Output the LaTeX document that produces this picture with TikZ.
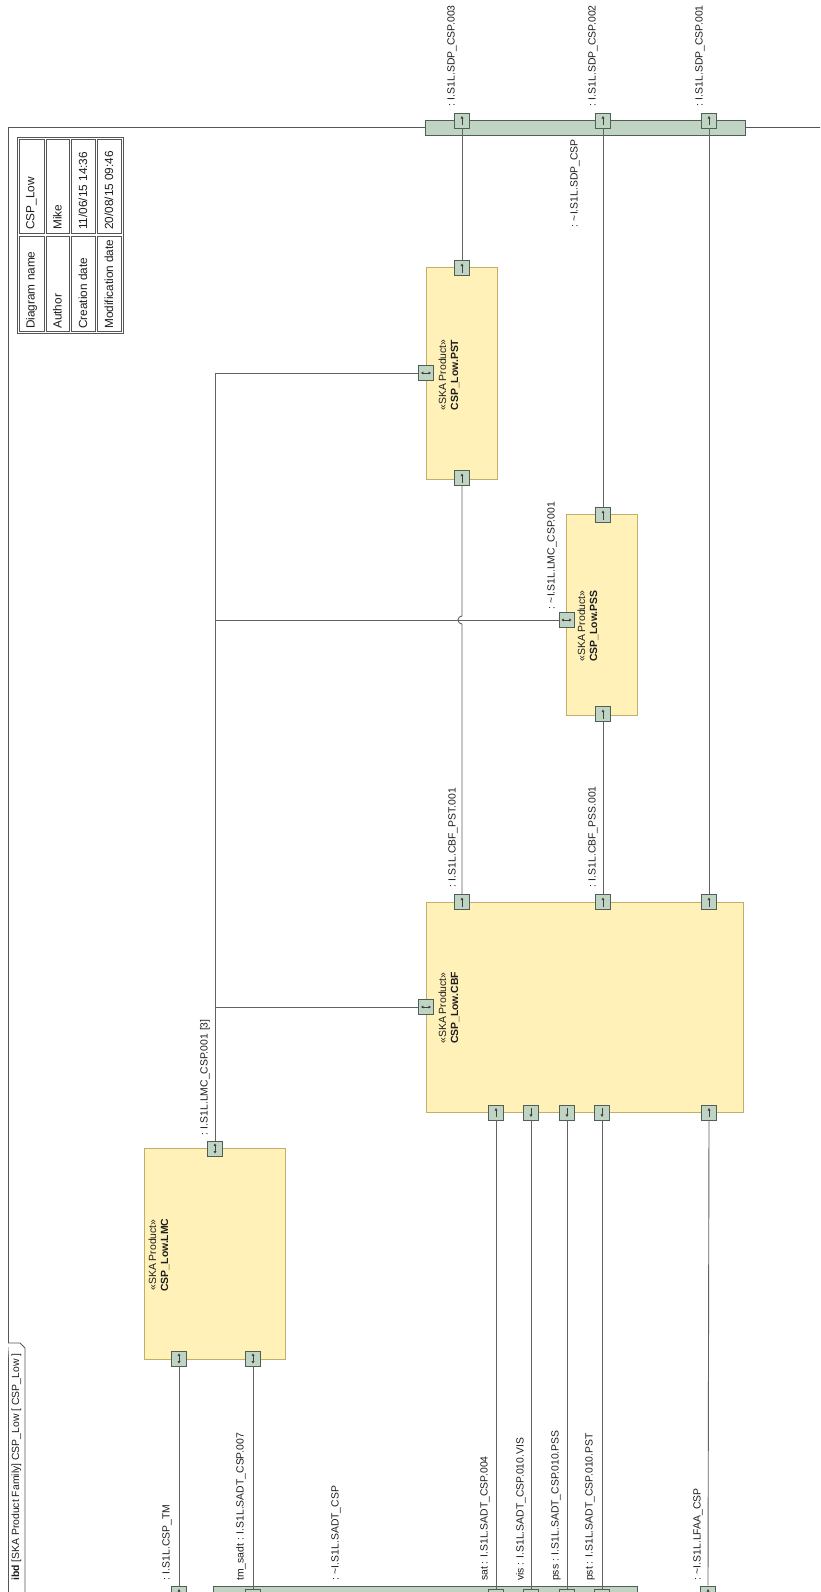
\documentclass[tikz,border=0pt]{standalone}
\usepackage{fontspec}
\setmainfont{Liberation Sans}
\usetikzlibrary{arrows.meta}
\definecolor{yfill}{HTML}{FFF1B8}
\definecolor{ydraw}{HTML}{BFAF6A}
\definecolor{gfill}{HTML}{BFD4C2}
\definecolor{gdraw}{HTML}{4F5F55}
\definecolor{lc}{HTML}{626262}
\definecolor{fc}{HTML}{555555}
\definecolor{tc}{HTML}{1E1E1E}
\tikzset{
  txt/.style={font=\fontsize{10.4}{12}\selectfont, text=tc, inner sep=0pt, rotate=90},
  ttxt/.style={font=\fontsize{11.8}{13}\selectfont, text=tc, inner sep=0pt, rotate=90},
  part/.style={draw=ydraw, fill=yfill, line width=0.9pt, inner sep=0pt},
  bar/.style={draw=gdraw, fill=gfill, line width=0.9pt, inner sep=0pt, minimum height=15pt},
  port/.style={draw=gdraw, fill=gfill, line width=0.8pt, minimum size=15pt, inner sep=0pt},
  tip/.style={line width=0.6pt, draw=black!75},
  portU/.style={port, path picture={\draw[tip, -{Triangle[length=2.6pt,width=2.8pt]}] ([yshift=-4.5pt]path picture bounding box.center) -- ([yshift=4.5pt]path picture bounding box.center);}},
  portD/.style={port, path picture={\draw[tip, -{Triangle[length=2.6pt,width=2.8pt]}] ([yshift=4.5pt]path picture bounding box.center) -- ([yshift=-4.5pt]path picture bounding box.center);}},
  portUD/.style={port, path picture={\draw[tip, {Triangle[length=2.4pt,width=2.8pt]}-{Triangle[length=2.4pt,width=2.8pt]}] ([yshift=-5pt]path picture bounding box.center) -- ([yshift=5pt]path picture bounding box.center);}},
  portLR/.style={port, path picture={\draw[tip, {Triangle[length=2.4pt,width=2.8pt]}-{Triangle[length=2.4pt,width=2.8pt]}] ([xshift=-5pt]path picture bounding box.center) -- ([xshift=5pt]path picture bounding box.center);}},
  conn/.style={draw=lc, line width=0.9pt},
  framel/.style={draw=fc, line width=0.9pt},
  cell/.style={draw=fc, line width=0.7pt}
}
\begin{document}
\begin{tikzpicture}[x=1pt,y=-1pt]
\useasboundingbox (0,0) rectangle (820,1592);
\clip (0,0) rectangle (820,1592);
\fill[white] (0,0) rectangle (820,1592);

% frame
\draw[framel] (830,127) -- (8,127) -- (8,1600);
\draw[framel, fill=white] (8,1343) -- (20,1343) -- (25,1348) -- (25,1600);
\node[txt, anchor=west] (title) at (16.5,1581) {\textbf{ibd} [SKA Product Family] CSP\_Low [ CSP\_Low ]};

% table
\draw[cell] (17,137) rectangle (123,333);
\foreach \a/\b in {19/44,46/69,71/95,97/121}{
  \draw[cell] (\a,139) rectangle (\b,233);
  \draw[cell] (\a,236) rectangle (\b,331);
}
\node[ttxt, anchor=west] (t1l) at (31.5,329) {Diagram name};
\node[ttxt, anchor=west] (t1v) at (31.5,230) {CSP\_Low};
\node[ttxt, anchor=west] (t2l) at (57.5,329) {Author};
\node[ttxt, anchor=west] (t2v) at (57.5,230) {Mike};
\node[ttxt, anchor=west] (t3l) at (83,329) {Creation date};
\node[ttxt, anchor=west] (t3v) at (83,230) {11/06/15 14:36};
\node[ttxt, anchor=west] (t4l) at (109,329) {Modification date};
\node[ttxt, anchor=west] (t4v) at (109,230) {20/08/15 09:46};

% boundary bars
\node[bar, minimum width=320pt] (tbar) at (585,127.5) {};
\node[bar, minimum width=424pt] (bbar) at (425,1593.5) {};

% parts
\node[part, minimum width=71pt, minimum height=212pt] (pst) at (461.5,373) {};
\node[part, minimum width=71pt, minimum height=201pt] (pss) at (601.5,614.5) {};
\node[part, minimum width=317pt, minimum height=210pt] (cbf) at (584.5,1007) {};
\node[part, minimum width=141pt, minimum height=211pt] (lmc) at (214.5,1253.5) {};

\node[txt, align=center] (pstn) at (449,375) {«SKA Product»\\\textbf{CSP\_Low.PST}};
\node[txt, align=center] (pssn) at (588,626) {«SKA Product»\\\textbf{CSP\_Low.PSS}};
\node[txt, align=center] (cbfn) at (449,1008) {«SKA Product»\\\textbf{CSP\_Low.CBF}};
\node[txt, align=center] (lmcn) at (159,1255) {«SKA Product»\\\textbf{CSP\_Low.LMC}};

% top boundary ports
\node[portU] (bt1) at (462,120.5) {};
\node[portU] (bt2) at (603,120.5) {};
\node[portU] (bt3) at (709,120.5) {};
% PST ports
\node[portU] (pstT) at (462,268) {};
\node[portU] (pstB) at (462,478) {};
\node[portLR] (pstL) at (426,373) {};
% PSS ports
\node[portU] (pssT) at (603,515) {};
\node[portU] (pssB) at (603,714) {};
\node[portLR] (pssL) at (566.5,620) {};
% CBF ports
\node[portU] (cbfT1) at (462,902) {};
\node[portU] (cbfT2) at (603,902) {};
\node[portU] (cbfT3) at (709,902) {};
\node[portU] (cbfB1) at (496,1112.5) {};
\node[portD] (cbfB2) at (531,1112.5) {};
\node[portD] (cbfB3) at (567,1112.5) {};
\node[portD] (cbfB4) at (602,1112.5) {};
\node[portU] (cbfB5) at (709,1112.5) {};
\node[portLR] (cbfL) at (426,1007) {};
% LMC ports
\node[portUD] (lmcT) at (215,1148.5) {};
\node[portUD] (lmcB1) at (179,1358.5) {};
\node[portUD] (lmcB2) at (253,1358.5) {};
% bottom ports
\node[portU] (bTM) at (179,1593.5) {};
\node[portU] (bLF) at (708,1593.5) {};
\node[port] (bb1) at (253,1596.5) {};
\node[port] (bb2) at (496,1596.5) {};
\node[port] (bb3) at (531,1596.5) {};
\node[port] (bb4) at (567,1596.5) {};
\node[port] (bb5) at (602,1596.5) {};

% connectors
\draw[conn] (bt1.south) -- (pstT.north);
\draw[conn] (pstB.south) -- (462,616) arc[start angle=90, end angle=270, radius=4pt] -- (cbfT1.north);
\draw[conn] (bt2.south) -- (pssT.north);
\draw[conn] (pssB.south) -- (cbfT2.north);
\draw[conn] (bt3.south) -- (cbfT3.north);
\draw[conn] (cbfB1.south) -- (bb2.north);
\draw[conn] (cbfB2.south) -- (bb3.north);
\draw[conn] (cbfB3.south) -- (bb4.north);
\draw[conn] (cbfB4.south) -- (bb5.north);
\draw[conn] (cbfB5.south) -- (bLF.north);
\draw[conn] (lmcB1.south) -- (bTM.north);
\draw[conn] (lmcB2.south) -- (bb1.north);
\draw[conn] (lmcT.north) |- (pstL.west);
\draw[conn] (lmcT.north |- pssL.west) -- (pssL.west);
\draw[conn] (lmcT.north |- cbfL.west) -- (cbfL.west);

% labels
\node[txt, anchor=west] (l1) at (452,107) {: I.S1L.SDP\_CSP.003};
\node[txt, anchor=west] (l2) at (593,107) {: I.S1L.SDP\_CSP.002};
\node[txt, anchor=west] (l3) at (700,107) {: I.S1L.SDP\_CSP.001};
\node[txt, anchor=east] (l4) at (575,139) {: \textasciitilde I.S1L.SDP\_CSP};
\node[txt, anchor=west] (l5) at (453,888) {: I.S1L.CBF\_PST.001};
\node[txt, anchor=west] (l6) at (593,888) {: I.S1L.CBF\_PSS.001};
\node[txt, anchor=west] (l7) at (552,610) {: \textasciitilde I.S1L.LMC\_CSP.001};
\node[txt, anchor=west] (l8) at (205,1136) {: I.S1L.LMC\_CSP.001 [3]};
\node[txt, anchor=west] (l9) at (167,1581) {: I.S1L.CSP\_TM};
\node[txt, anchor=west] (l10) at (241,1581) {tm\_sadt : I.S1L.SADT\_CSP.007};
\node[txt, anchor=west] (l11) at (336,1581) {: \textasciitilde I.S1L.SADT\_CSP};
\node[txt, anchor=west] (l12) at (485,1581) {sat : I.S1L.SADT\_CSP.004};
\node[txt, anchor=west] (l13) at (521,1581) {vis : I.S1L.SADT\_CSP.010.VIS};
\node[txt, anchor=west] (l14) at (556,1581) {pss : I.S1L.SADT\_CSP.010.PSS};
\node[txt, anchor=west] (l15) at (590,1581) {pst : I.S1L.SADT\_CSP.010.PST};
\node[txt, anchor=west] (l16) at (698,1581) {: \textasciitilde I.S1L.LFAA\_CSP};
\end{tikzpicture}
\end{document}
